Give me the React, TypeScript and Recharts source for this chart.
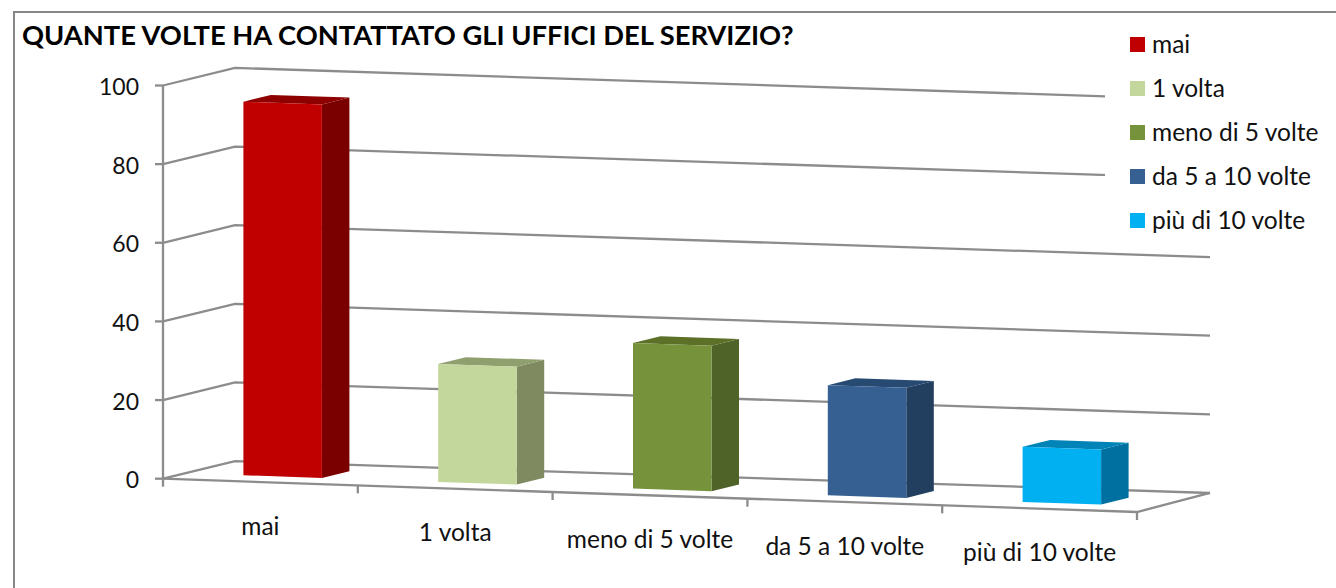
import { Bar, BarChart, CartesianGrid, Legend, XAxis, YAxis } from "recharts"

const categories = ["mai", "1 volta", "meno di 5 volte", "da 5 a 10 volte", "più di 10 volte"]
const values = [95, 30, 37, 28, 14]
const yTicks = [0, 20, 40, 60, 80, 100]

const frontColors = ["#c00000", "#c3d69b", "#76933c", "#366092", "#00b0f0"]
const sideColors = ["#7a0000", "#7f8a60", "#4f6228", "#223f60", "#0070a0"]
const topColors = ["#8e0000", "#909f6e", "#5c7028", "#274a73", "#0084b8"]

const chartData = categories.map((name, i) => ({ name, value: values[i] }))

const FONT = "Lato, sans-serif"
const LABEL_SIZE = 24.5
const AXIS_COLOR = "#8c8c8c"
const AXIS_WIDTH = 2.3

const WIDTH = 1336
const HEIGHT = 588
const PLOT_LEFT = 163
const PLOT_RIGHT = 1137
const PLOT_TOP = 85.5
const PLOT_BOTTOM = 478.7
const BAND = (PLOT_RIGHT - PLOT_LEFT) / categories.length

// fake perspective of the 3D chart
const FLOOR_SLOPE = 0.0342
const BACK_SLOPE = 0.0327
const WALL_DX = 72
const WALL_DY = -17.6
const BAR_DX = 22.4
const BAR_LIFT = -6.2
const DEPTH_DX = 27.5
const DEPTH_DY = -6.8

const shear = (x: number) => (x - PLOT_LEFT) * FLOOR_SLOPE

function WallLine(props: any) {
  const { x1, x2, y1, index } = props
  const isFloor = Math.abs(y1 - PLOT_BOTTOM) < 1
  const backX = x1 + WALL_DX
  const backY = y1 + WALL_DY
  const endX = x2 + WALL_DX + 1
  const endY = backY + (endX - backX) * BACK_SLOPE
  return (
    <g key={index}>
      <polyline
        points={`${x1},${y1} ${backX},${backY} ${endX},${endY}`}
        fill="none"
        stroke={AXIS_COLOR}
        strokeWidth={AXIS_WIDTH}
      />
      {isFloor && (
        <>
          <polyline
            points={`${x1},${y1} ${x2},${y1 + shear(x2)} ${endX},${endY}`}
            fill="none"
            stroke={AXIS_COLOR}
            strokeWidth={AXIS_WIDTH}
          />
          <line x1={x1} y1={y1} x2={x1} y2={y1 + 8} stroke={AXIS_COLOR} strokeWidth={AXIS_WIDTH} />
        </>
      )}
    </g>
  )
}

function CategoryTick({ x, payload }: any) {
  const tickX = x + BAND / 2
  const tickY = PLOT_BOTTOM + shear(tickX)
  return (
    <g>
      <line x1={tickX} y1={tickY} x2={tickX} y2={tickY + 8} stroke={AXIS_COLOR} strokeWidth={AXIS_WIDTH} />
      <text x={x} y={PLOT_BOTTOM + 52.7 + shear(x)} textAnchor="middle" fontFamily={FONT} fontSize={LABEL_SIZE} fill="#111">
        {payload.value}
      </text>
    </g>
  )
}

function Bar3D({ x, y, width, height, index }: any) {
  const left = x + BAR_DX
  const right = left + width
  const lift = (px: number) => shear(px) + BAR_LIFT
  const tl = [left, y + lift(left)]
  const tr = [right, y + lift(right)]
  const br = [right, y + height + lift(right)]
  const bl = [left, y + height + lift(left)]
  const pts = (list: number[][]) => list.map((p) => p.join(",")).join(" ")
  const back = (p: number[]) => [p[0] + DEPTH_DX, p[1] + DEPTH_DY]
  return (
    <g>
      <polygon points={pts([tr, back(tr), back(br), br])} fill={sideColors[index]} />
      <polygon points={pts([tl, back(tl), back(tr), tr])} fill={topColors[index]} />
      <polygon points={pts([tl, tr, br, bl])} fill={frontColors[index]} />
    </g>
  )
}

function LegendList() {
  return (
    <div style={{ fontFamily: FONT, fontSize: LABEL_SIZE, color: "#111" }}>
      {categories.map((name, i) => (
        <div key={name} style={{ position: "absolute", left: 25, top: 17 + i * 44, height: 15, display: "flex", alignItems: "center" }}>
          <span style={{ width: 15, height: 15, background: frontColors[i], marginRight: 7 }} />
          <span style={{ whiteSpace: "nowrap", position: "relative", top: -1 }}>{name}</span>
        </div>
      ))}
    </div>
  )
}

export default function App() {
  return (
    <div style={{ position: "absolute", left: 0, top: 0, width: WIDTH, height: HEIGHT, overflow: "hidden", background: "#fff" }}>
      <div style={{ position: "absolute", left: 13, top: 11, width: WIDTH + 50, height: HEIGHT + 50, border: "2px solid #868686" }} />
      <BarChart
        width={WIDTH}
        height={HEIGHT}
        data={chartData}
        style={{ position: "absolute", left: 0, top: 0 }}
        margin={{
          top: PLOT_TOP,
          right: WIDTH - PLOT_RIGHT,
          left: PLOT_LEFT - 60,
          bottom: HEIGHT - PLOT_BOTTOM - 80,
        }}
      >
        <CartesianGrid vertical={false} horizontal={WallLine as any} />
        <XAxis dataKey="name" height={80} axisLine={false} tickLine={false} tick={<CategoryTick />} interval={0} />
        <YAxis
          width={60}
          domain={[0, 100]}
          ticks={yTicks}
          tick={{ fill: "#111", fontSize: 23, fontFamily: FONT, dy: 1.5 }}
          tickSize={8}
          tickMargin={16}
          tickLine={{ stroke: AXIS_COLOR, strokeWidth: AXIS_WIDTH }}
          axisLine={{ stroke: AXIS_COLOR, strokeWidth: AXIS_WIDTH }}
        />
        <Legend
          layout="horizontal"
          verticalAlign="middle"
          align="center"
          content={<LegendList />}
          wrapperStyle={{ position: "absolute", left: 1105, top: 20, width: 231, height: 222, background: "#fff" }}
        />
        <Bar dataKey="value" barSize={78.5} shape={<Bar3D />} isAnimationActive={false} />
      </BarChart>
      <div style={{ position: "absolute", left: 22, top: 18, fontFamily: FONT, fontWeight: 700, fontSize: 27.3, color: "#000", whiteSpace: "nowrap" }}>
        QUANTE VOLTE HA CONTATTATO GLI UFFICI DEL SERVIZIO?
      </div>
    </div>
  )
}
